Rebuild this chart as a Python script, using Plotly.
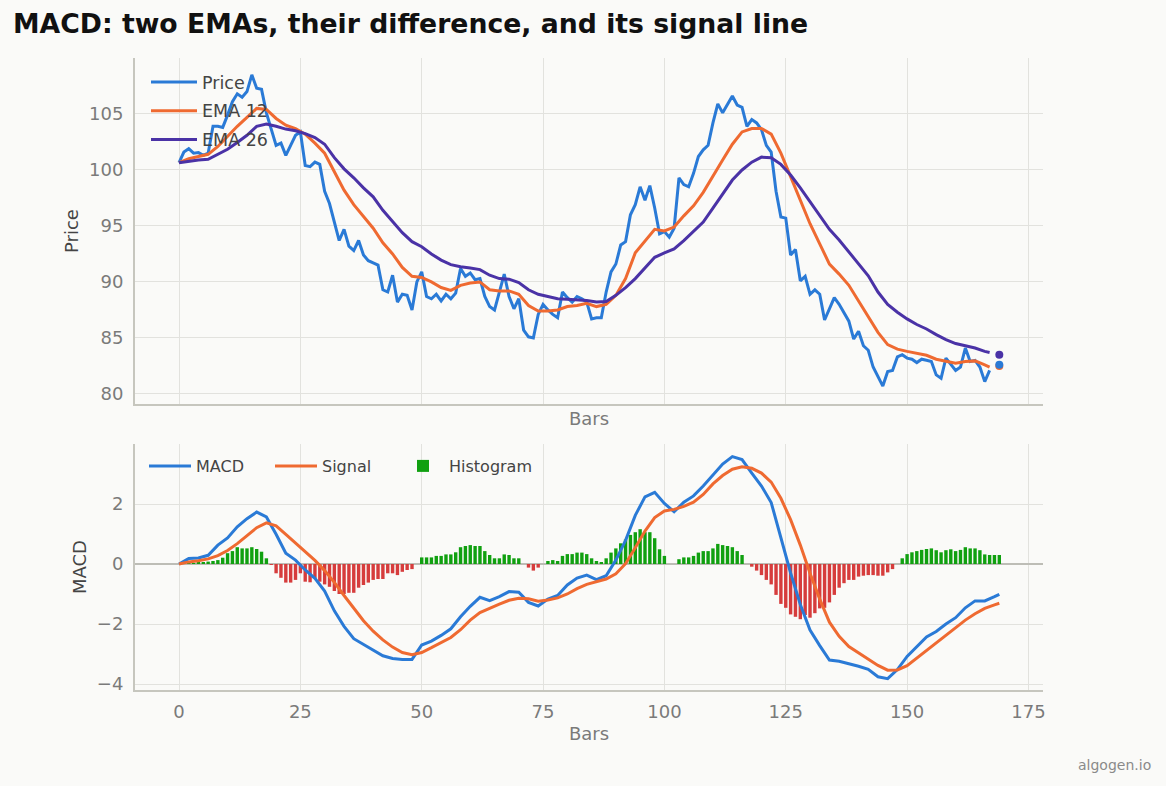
import plotly.graph_objects as go

# ---------------- data ----------------
BARS = list(range(168))
PRICE = [
    100.65, 101.6, 101.9, 101.5, 101.55, 101.3, 101.5, 103.9, 103.9, 103.8,
    104.9, 106.1, 106.8, 106.5, 107.0, 108.5, 107.3, 107.2, 105.1, 103.7,
    102.2, 102.4, 101.3, 102.2, 103.1, 103.4, 100.4, 100.3, 100.7, 100.5,
    98.1, 97.0, 95.4, 93.7, 94.7, 93.2, 92.8, 93.7, 92.4, 91.9,
    91.7, 91.5, 89.3, 89.1, 90.6, 88.2, 88.9, 88.8, 87.5, 90.0,
    90.9, 88.7, 88.5, 88.9, 88.3, 88.9, 88.5, 89.0, 91.2, 90.5,
    90.8, 90.2, 90.3, 88.7, 87.8, 87.5, 89.1, 90.7, 88.7, 87.6,
    88.5, 85.7, 85.1, 85.0, 87.1, 88.0, 87.5, 87.1, 86.8, 89.1,
    88.6, 88.2, 88.7, 88.5, 88.2, 86.7, 86.8, 86.8, 89.1, 90.9,
    91.6, 93.3, 93.6, 96.0, 96.9, 98.5, 97.3, 98.6, 96.6, 94.3,
    94.5, 94.0, 94.8, 99.3, 98.7, 98.5, 99.7, 101.2, 101.8, 102.2,
    104.2, 105.9, 105.1, 105.8, 106.6, 105.8, 105.6, 103.9, 104.5, 104.2,
    103.6, 102.2, 101.6, 98.1, 95.8, 95.7, 92.4, 92.9, 90.1, 90.5,
    88.9, 89.3, 88.9, 86.6, 87.6, 88.6, 88.0, 87.2, 86.5, 84.9,
    85.6, 84.3, 83.9, 82.4, 81.5, 80.7, 82.0, 82.1, 83.3, 83.5,
    83.2, 83.1, 82.8, 83.1, 83.0, 82.9, 81.7, 81.4, 83.2, 82.7,
    82.1, 82.4, 84.1, 82.9, 83.0, 82.4, 81.1, 82.1,
]

EMA_BARS = list(range(0, 168, 2)) + [167]
EMA12 = [
    100.65, 101.0, 101.2, 101.4, 102.1, 103.0, 103.9, 104.7, 105.5, 105.4,
    104.6, 104.0, 103.7, 103.2, 102.4, 101.5, 99.8, 98.2, 96.9, 95.8,
    94.8, 93.5, 92.5, 91.3, 90.5, 90.4, 90.0, 89.5, 89.25, 89.7,
    89.9, 90.0, 89.3, 89.2, 89.2, 88.9, 87.9, 87.4, 87.4, 87.5,
    87.8, 87.9, 88.1, 87.8, 88.0, 88.8, 90.3, 92.6, 93.7, 94.7,
    94.55, 94.9, 95.9, 96.8, 98.0, 99.5, 100.9, 102.3, 103.4, 103.7,
    103.7, 103.2, 101.5, 99.4, 97.3, 95.2, 93.4, 91.6, 90.7, 89.7,
    88.3, 86.9, 85.5, 84.4, 84.0, 83.8, 83.6, 83.45, 83.1, 82.95,
    82.75, 82.9, 82.95, 82.6, 82.4,
]
EMA26 = [
    100.65, 100.8, 100.9, 100.95, 101.4, 101.85, 102.45, 103.1, 103.9, 104.1,
    103.9, 103.65, 103.5, 103.25, 102.9, 102.3, 101.1, 100.1, 99.3, 98.4,
    97.6, 96.4, 95.4, 94.4, 93.6, 93.15, 92.5, 91.95, 91.55, 91.35,
    91.25, 91.1, 90.6, 90.3, 90.25, 89.95, 89.3, 88.9, 88.7, 88.5,
    88.45, 88.4, 88.35, 88.2, 88.25, 88.8, 89.5, 90.3, 91.3, 92.2,
    92.6, 92.95, 93.7, 94.5, 95.35, 96.6, 97.9, 99.1, 100.0, 100.7,
    101.15, 101.1, 100.5, 99.55, 98.4, 97.2, 95.9, 94.7, 93.75, 92.65,
    91.55, 90.55, 89.1, 88.0, 87.3, 86.7, 86.2, 85.8, 85.3, 84.85,
    84.5, 84.3, 84.1, 83.8, 83.7,
]

LAST_BAR = 169
LAST_PRICE = 82.6
LAST_EMA12 = 82.5
LAST_EMA26 = 83.5

MACD_BARS = list(range(0, 170, 2)) + [169]
MACD = [
    0.0, 0.18, 0.2, 0.29, 0.63, 0.87, 1.24, 1.51, 1.73, 1.57,
    0.99, 0.36, 0.13, -0.2, -0.48, -0.9, -1.56, -2.08, -2.49, -2.68,
    -2.85, -3.06, -3.15, -3.18, -3.18, -2.7, -2.57, -2.38, -2.16, -1.76,
    -1.41, -1.11, -1.22, -1.09, -0.92, -0.94, -1.28, -1.40, -1.17, -1.05,
    -0.7, -0.47, -0.37, -0.52, -0.39, 0.13, 0.79, 1.62, 2.24, 2.39,
    2.02, 1.74, 2.06, 2.27, 2.6, 2.96, 3.33, 3.58, 3.48, 3.03,
    2.6, 2.05, 0.9, -0.3, -1.35, -2.2, -2.72, -3.2, -3.24, -3.32,
    -3.41, -3.51, -3.76, -3.82, -3.52, -3.08, -2.75, -2.43, -2.25, -2.0,
    -1.79, -1.46, -1.23, -1.23, -1.09, -1.01,
]
SIGNAL = [
    0.0, 0.07, 0.11, 0.17, 0.28, 0.45, 0.68, 0.95, 1.21, 1.37,
    1.27, 0.99, 0.70, 0.42, 0.12, -0.22, -0.61, -1.05, -1.48, -1.89,
    -2.24, -2.53, -2.77, -2.95, -3.02, -2.95, -2.79, -2.62, -2.45, -2.19,
    -1.87, -1.62, -1.47, -1.34, -1.21, -1.14, -1.16, -1.24, -1.2, -1.13,
    -1.0, -0.82, -0.68, -0.59, -0.5, -0.33, 0.01, 0.54, 1.1, 1.55,
    1.77, 1.82, 1.92, 2.06, 2.32, 2.67, 2.95, 3.16, 3.24, 3.19,
    3.03, 2.73, 2.19, 1.48, 0.63, -0.31, -1.17, -1.94, -2.41, -2.75,
    -2.96, -3.15, -3.38, -3.54, -3.53, -3.39, -3.14, -2.88, -2.63, -2.39,
    -2.14, -1.87, -1.66, -1.48, -1.36, -1.31,
]

HIST_BARS = list(range(170))
HIST = [
    0.0, 0.02, 0.03, 0.03, 0.04, 0.05, 0.08, 0.1, 0.13, 0.21,
    0.36, 0.43, 0.56, 0.52, 0.52, 0.56, 0.5, 0.41, 0.19, -0.02,
    -0.31, -0.46, -0.62, -0.62, -0.53, -0.31, -0.59, -0.61, -0.48, -0.59,
    -0.68, -0.76, -0.9, -1.0, -1.0, -0.96, -0.96, -0.79, -0.70, -0.62,
    -0.53, -0.5, -0.5, -0.31, -0.31, -0.37, -0.26, -0.2, -0.17, 0.0,
    0.22, 0.22, 0.22, 0.27, 0.27, 0.32, 0.32, 0.39, 0.56, 0.6,
    0.63, 0.6, 0.6, 0.43, 0.3, 0.19, 0.19, 0.32, 0.3, 0.19,
    0.19, 0.0, -0.12, -0.22, -0.12, 0.0, 0.1, 0.13, 0.1, 0.27,
    0.33, 0.33, 0.38, 0.38, 0.33, 0.19, 0.1, 0.06, 0.19, 0.38,
    0.52, 0.69, 0.82, 0.97, 1.06, 1.16, 1.06, 1.06, 0.86, 0.49,
    0.27, 0.0, 0.0, 0.16, 0.22, 0.22, 0.27, 0.38, 0.43, 0.43,
    0.52, 0.67, 0.63, 0.6, 0.56, 0.43, 0.3, 0.0, -0.09, -0.22,
    -0.37, -0.53, -0.68, -1.03, -1.33, -1.46, -1.68, -1.76, -1.84, -1.7,
    -1.79, -1.64, -1.48, -1.46, -1.28, -1.03, -0.79, -0.64, -0.53, -0.53,
    -0.42, -0.39, -0.37, -0.37, -0.39, -0.39, -0.28, -0.17, 0.0, 0.19,
    0.33, 0.39, 0.43, 0.47, 0.5, 0.52, 0.46, 0.39, 0.46, 0.49,
    0.43, 0.47, 0.56, 0.52, 0.52, 0.46, 0.32, 0.3, 0.3, 0.3,
]

X_TICKS = [0, 25, 50, 75, 100, 125, 150, 175]
PRICE_TICKS = [80, 85, 90, 95, 100, 105]
MACD_TICKS = [-4, -2, 0, 2]

# ---------------- style ----------------
BLUE = "#2a7ad6"
ORANGE = "#ef6a31"
PURPLE = "#4a32a6"
GREEN = "#10a010"
RED = "#d63c3c"
BG = "#fafaf8"
GRID = "#e2e2de"
AXLINE = "#c6c6be"
TICKC = "#7a7a7a"
FONT = "DejaVu Sans"

fig = go.Figure()

fig.add_trace(go.Scatter(x=BARS, y=PRICE, name="Price", mode="lines",
                         line=dict(color=BLUE, width=3), xaxis="x", yaxis="y",
                         legend="legend", legendgroup="p"))
fig.add_trace(go.Scatter(x=EMA_BARS, y=EMA12, name="EMA 12", mode="lines",
                         line=dict(color=ORANGE, width=3), xaxis="x", yaxis="y",
                         legend="legend", legendgroup="e12"))
fig.add_trace(go.Scatter(x=EMA_BARS, y=EMA26, name="EMA 26", mode="lines",
                         line=dict(color=PURPLE, width=3), xaxis="x", yaxis="y",
                         legend="legend", legendgroup="e26"))
fig.add_trace(go.Scatter(x=[LAST_BAR], y=[LAST_EMA12], mode="markers", showlegend=False,
                         marker=dict(color=ORANGE, size=8), xaxis="x", yaxis="y"))
fig.add_trace(go.Scatter(x=[LAST_BAR], y=[LAST_EMA26], mode="markers", showlegend=False,
                         marker=dict(color=PURPLE, size=8), xaxis="x", yaxis="y"))
fig.add_trace(go.Scatter(x=[LAST_BAR], y=[LAST_PRICE], mode="markers", showlegend=False,
                         marker=dict(color=BLUE, size=8), xaxis="x", yaxis="y"))

fig.add_trace(go.Scatter(x=MACD_BARS, y=MACD, name="MACD", mode="lines",
                         line=dict(color=BLUE, width=3), xaxis="x2", yaxis="y2",
                         legend="legend2"))
fig.add_trace(go.Scatter(x=MACD_BARS, y=SIGNAL, name="Signal", mode="lines",
                         line=dict(color=ORANGE, width=3), xaxis="x2", yaxis="y2",
                         legend="legend3"))
fig.add_trace(go.Bar(x=HIST_BARS, y=HIST, name="Histogram",
                     marker=dict(color=[GREEN if v >= 0 else RED for v in HIST],
                                 line=dict(width=0)),
                     xaxis="x2", yaxis="y2", legend="legend4"))

L, R, T, B = 135, 123, 58, 96
W, H = 1166, 786
PW = W - L - R
PH = H - T - B

axis_common = dict(
    showgrid=True, gridcolor=GRID, gridwidth=1.2,
    showline=True, linecolor=AXLINE, linewidth=2,
    ticks="", tickfont=dict(family=FONT, size=18, color=TICKC),
    zeroline=False,
)


def bottom_legend(px_left):
    return dict(x=(px_left - L) / PW, y=(690 - 449) / PH, xanchor="left", yanchor="top",
                orientation="h", bgcolor="rgba(0,0,0,0)",
                font=dict(family=FONT, size=16, color="#444"), itemwidth=42)


fig.update_layout(
    width=W, height=H,
    paper_bgcolor=BG, plot_bgcolor=BG,
    margin=dict(l=L, r=R, t=T, b=B, autoexpand=False),
    font=dict(family=FONT, color="#444"),
    title=dict(text="<b>MACD: two EMAs, their difference, and its signal line</b>",
               x=13 / W, xref="container", xanchor="left",
               y=1 - 24 / H, yref="container", yanchor="middle",
               font=dict(family=FONT, size=26.7, color="#111")),
    bargap=0.3,
    showlegend=True,
    xaxis=dict(axis_common, domain=[0, 1], anchor="y", range=[-9.07, 178.0],
               tickvals=X_TICKS, showticklabels=False,
               title=dict(text="Bars", standoff=7, font=dict(family=FONT, size=18, color=TICKC))),
    yaxis=dict(axis_common, domain=[(690 - 404) / PH, 1], anchor="x", range=[79.1, 110.0],
               tickvals=PRICE_TICKS, ticklabelstandoff=6,
               title=dict(text="Price", standoff=6, font=dict(family=FONT, size=18, color="#444"))),
    xaxis2=dict(axis_common, domain=[0, 1], anchor="y2", range=[-9.07, 178.0],
                tickvals=X_TICKS, ticklabelstandoff=4,
                title=dict(text="Bars", standoff=7, font=dict(family=FONT, size=18, color=TICKC))),
    yaxis2=dict(axis_common, domain=[0, (690 - 444) / PH], anchor="x2", range=[-4.2, 4.0],
                tickvals=MACD_TICKS, ticklabelstandoff=6,
                zeroline=True, zerolinecolor="#bdbdb6", zerolinewidth=2,
                title=dict(text="MACD", standoff=6, font=dict(family=FONT, size=18, color="#444"))),
    legend=dict(x=11 / PW, y=1 - 6 / PH, xanchor="left", yanchor="top", bgcolor="rgba(0,0,0,0)",
                font=dict(family=FONT, size=17.5, color="#444"), itemwidth=46,
                tracegroupgap=3),
    legend2=bottom_legend(144),
    legend3=bottom_legend(270),
    legend4=bottom_legend(397),
    annotations=[dict(text="algogen.io", xref="paper", yref="paper",
                      x=(1153 - L) / PW, y=(690 - 765) / PH,
                      xanchor="right", yanchor="middle", showarrow=False,
                      font=dict(family=FONT, size=14, color="#8a8a8a"))],
)

fig.write_html("out.html")
